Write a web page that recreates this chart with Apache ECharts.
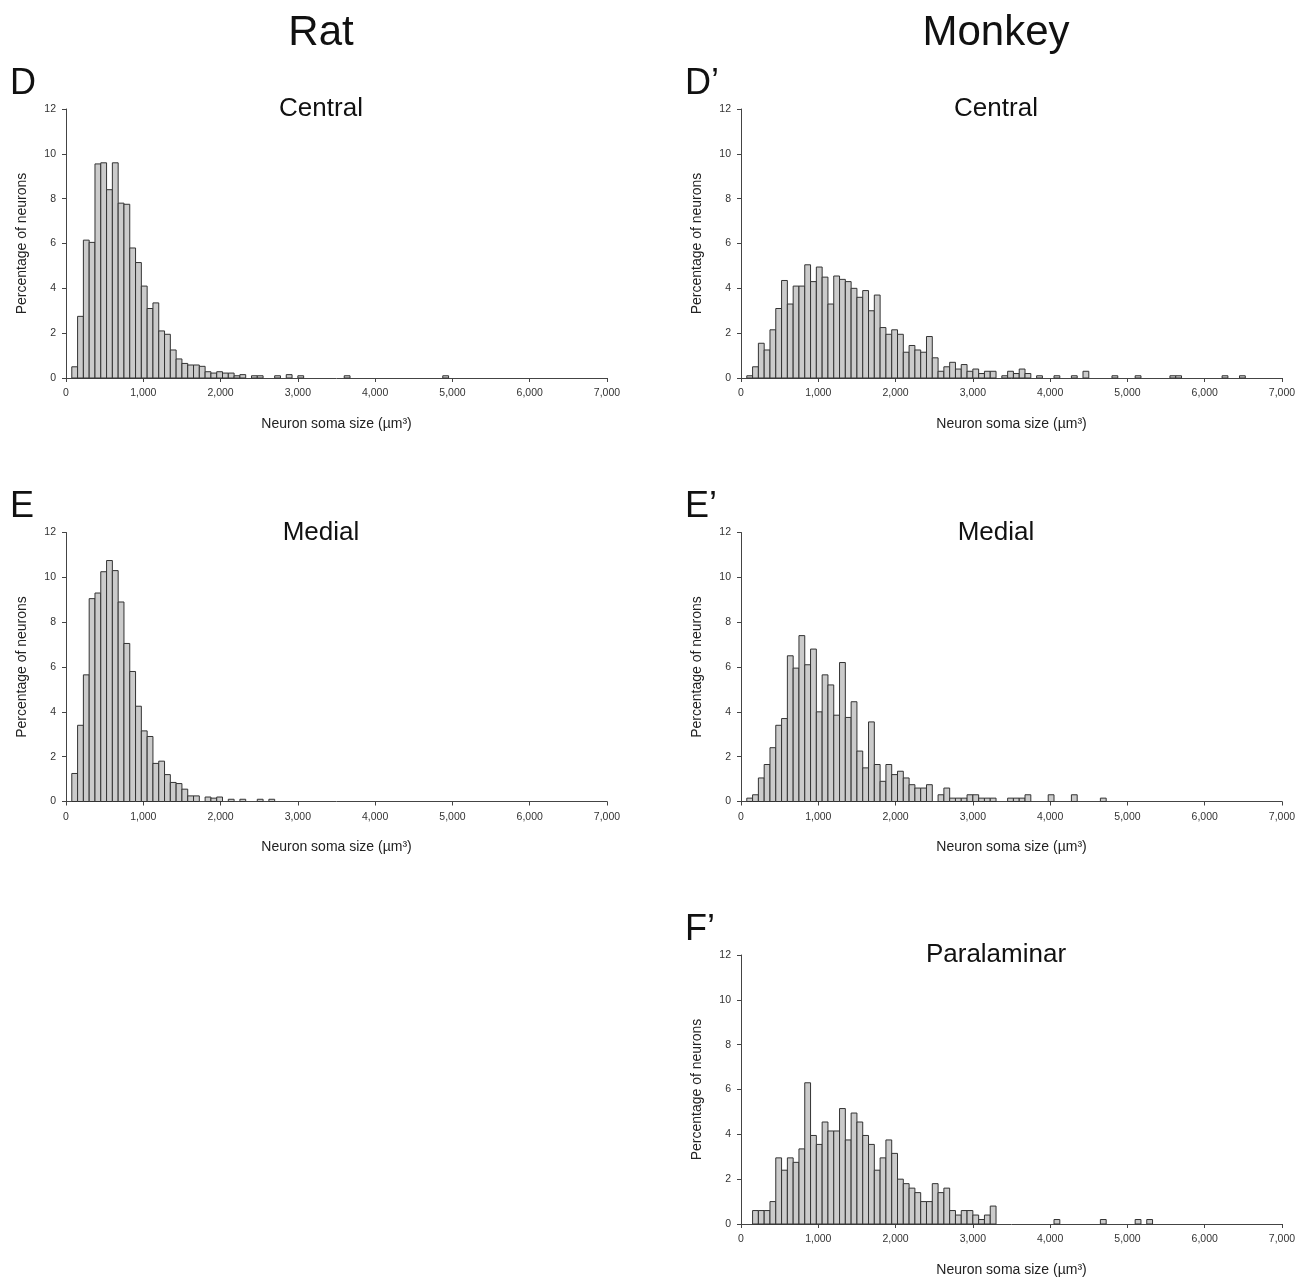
<!DOCTYPE html>
<html>
<head>
<meta charset="utf-8">
<script src="https://cdn.jsdelivr.net/npm/echarts@6/dist/echarts.min.js"></script>
<style>
html,body{margin:0;padding:0;background:#fff;}
#chart{width:1313px;height:1282px;}
</style>
</head>
<body>
<div id="chart"></div>
<script>
// Bin width of the histograms (µm³); bin k covers [k*BIN, (k+1)*BIN)
const BIN = 75;
const xTicks = [0, 1000, 2000, 3000, 4000, 5000, 6000, 7000];
const yTicks = [0, 2, 4, 6, 8, 10, 12];

// Percentage of neurons per bin, starting at bin 0
const ratCentral = [0, 0.5, 2.75, 6.15, 6.05, 9.55, 9.6, 8.4, 9.6, 7.8, 7.75, 5.8, 5.15, 4.1, 3.1, 3.35, 2.1, 1.95, 1.25, 0.85,
  0.65, 0.58, 0.58, 0.52, 0.28, 0.22, 0.28, 0.22, 0.22, 0.1, 0.15, 0, 0.1, 0.1, 0, 0, 0.1, 0, 0.15, 0,
  0.1, 0, 0, 0, 0, 0, 0, 0, 0.1, 0, 0, 0, 0, 0, 0, 0, 0, 0, 0, 0, 0, 0, 0, 0, 0, 0.1];
const ratMedial = [0, 1.25, 3.4, 5.65, 9.05, 9.3, 10.25, 10.75, 10.3, 8.9, 7.05, 5.8, 4.25, 3.15, 2.9, 1.7, 1.8, 1.2, 0.85, 0.8,
  0.55, 0.25, 0.25, 0, 0.2, 0.15, 0.2, 0, 0.1, 0, 0.1, 0, 0, 0.1, 0, 0.1];
const monkeyCentral = [0, 0.1, 0.5, 1.55, 1.25, 2.15, 3.1, 4.35, 3.3, 4.1, 4.1, 5.05, 4.3, 4.95, 4.5, 3.3, 4.55, 4.4, 4.3, 4.0,
  3.6, 3.9, 3.0, 3.7, 2.25, 1.95, 2.15, 1.95, 1.15, 1.45, 1.25, 1.15, 1.85, 0.9, 0.3, 0.5, 0.7, 0.4, 0.6, 0.3,
  0.4, 0.2, 0.3, 0.3, 0, 0.1, 0.3, 0.2, 0.4, 0.2, 0, 0.1, 0, 0, 0.1, 0, 0, 0.1, 0, 0.3,
  0, 0, 0, 0, 0.1, 0, 0, 0, 0.1, 0, 0, 0, 0, 0, 0.1, 0.1, 0, 0, 0, 0, 0, 0, 0, 0.1, 0, 0, 0.1];
const monkeyMedial = [0, 0.15, 0.3, 1.05, 1.65, 2.4, 3.4, 3.7, 6.5, 5.95, 7.4, 6.1, 6.8, 4.0, 5.65, 5.2, 3.85, 6.2, 3.75, 4.45,
  2.25, 1.5, 3.55, 1.65, 0.9, 1.65, 1.2, 1.35, 1.05, 0.75, 0.6, 0.6, 0.75, 0, 0.3, 0.6, 0.15, 0.15, 0.15, 0.3,
  0.3, 0.15, 0.15, 0.15, 0, 0, 0.15, 0.15, 0.15, 0.3, 0, 0, 0, 0.3, 0, 0, 0, 0.3, 0, 0, 0, 0, 0.15];
const monkeyParalaminar = [0, 0, 0.6, 0.6, 0.6, 1.0, 2.95, 2.4, 2.95, 2.75, 3.35, 6.3, 3.95, 3.55, 4.55, 4.15, 4.15, 5.15, 3.75, 4.95,
  4.55, 3.95, 3.55, 2.4, 2.95, 3.75, 3.15, 2.0, 1.8, 1.6, 1.4, 1.0, 1.0, 1.8, 1.4, 1.6, 0.6, 0.4, 0.6, 0.6,
  0.4, 0.2, 0.4, 0.8, 0, 0, 0, 0, 0, 0, 0, 0, 0, 0, 0.2, 0, 0, 0, 0, 0, 0, 0, 0.2, 0, 0, 0, 0, 0, 0.2, 0, 0.2];

const speciesTitles = ['Rat', 'Monkey'];
const panels = [
  { letter: 'D',  sub: 'Central',     data: ratCentral,        col: 0, row: 0 },
  { letter: 'D\u2019', sub: 'Central', data: monkeyCentral,    col: 1, row: 0 },
  { letter: 'E',  sub: 'Medial',      data: ratMedial,         col: 0, row: 1 },
  { letter: 'E\u2019', sub: 'Medial',  data: monkeyMedial,     col: 1, row: 1 },
  { letter: 'F\u2019', sub: 'Paralaminar', data: monkeyParalaminar, col: 1, row: 2 }
];

const colLeft = [66, 741];
const plotW = 541;
const rowTop = [109, 532.5, 955];
const plotH = 269;
const FONT = 'Liberation Sans, Arial, sans-serif';

const grids = [], xAxes = [], yAxes = [], series = [], titles = [];

titles.push({ text: speciesTitles[0], left: 316, top: 28, textAlign: 'center', textVerticalAlign: 'middle',
  textStyle: { fontFamily: FONT, fontSize: 42, fontWeight: 'normal', color: '#111' } });
titles.push({ text: speciesTitles[1], left: 991, top: 28, textAlign: 'center', textVerticalAlign: 'middle',
  textStyle: { fontFamily: FONT, fontSize: 42, fontWeight: 'normal', color: '#111' } });

panels.forEach((p, i) => {
  const left = colLeft[p.col];
  const top = rowTop[p.row];
  grids.push({ left: left, top: top, width: plotW, height: plotH, containLabel: false });
  xAxes.push({
    type: 'value', gridIndex: i, min: 0, max: 7000, interval: 1000,
    name: 'Neuron soma size (\u00b5m\u00b3)', nameLocation: 'middle', nameGap: 39,
    nameTextStyle: { fontFamily: FONT, fontSize: 14, color: '#222' },
    axisLine: { show: true, lineStyle: { color: '#444', width: 1 } },
    axisTick: { show: true, length: 4, lineStyle: { color: '#444' } },
    axisLabel: { fontFamily: FONT, fontSize: 10.5, color: '#333', margin: 10,
      formatter: v => v.toLocaleString('en-US') },
    splitLine: { show: false }
  });
  yAxes.push({
    type: 'value', gridIndex: i, min: 0, max: 12, interval: 2,
    name: 'Percentage of neurons', nameLocation: 'middle', nameGap: 37,
    nameTextStyle: { fontFamily: FONT, fontSize: 14, color: '#222' },
    axisLine: { show: true, lineStyle: { color: '#444', width: 1 } },
    axisTick: { show: true, length: 4, lineStyle: { color: '#444' } },
    axisLabel: { fontFamily: FONT, fontSize: 10.5, color: '#333', margin: 10 },
    splitLine: { show: false }
  });
  const pts = [];
  p.data.forEach((v, k) => { if (v > 0) pts.push([k * BIN, v]); });
  series.push({
    type: 'custom', xAxisIndex: i, yAxisIndex: i,
    data: pts,
    renderItem: function (params, api) {
      const x0 = api.value(0), v = api.value(1);
      const a = api.coord([x0, 0]);
      const b = api.coord([x0 + BIN, v]);
      return {
        type: 'rect',
        shape: { x: a[0], y: b[1], width: b[0] - a[0], height: a[1] - b[1] },
        style: { fill: '#cbcbcb', stroke: '#333', lineWidth: 1 }
      };
    }
  });
  titles.push({ text: p.letter, left: left - 61, top: top - 30, textVerticalAlign: 'middle',
    textStyle: { fontFamily: FONT, fontSize: 36, fontWeight: 'normal', color: '#111' } });
  titles.push({ text: p.sub, left: left + 250, top: top - 5, textAlign: 'center', textVerticalAlign: 'middle',
    textStyle: { fontFamily: FONT, fontSize: 26, fontWeight: 'normal', color: '#111' } });
});

const chart = echarts.init(document.getElementById('chart'), null, { renderer: 'canvas' });
chart.setOption({
  animation: false,
  backgroundColor: '#fff',
  title: titles,
  grid: grids,
  xAxis: xAxes,
  yAxis: yAxes,
  series: series
});
</script>
</body>
</html>
